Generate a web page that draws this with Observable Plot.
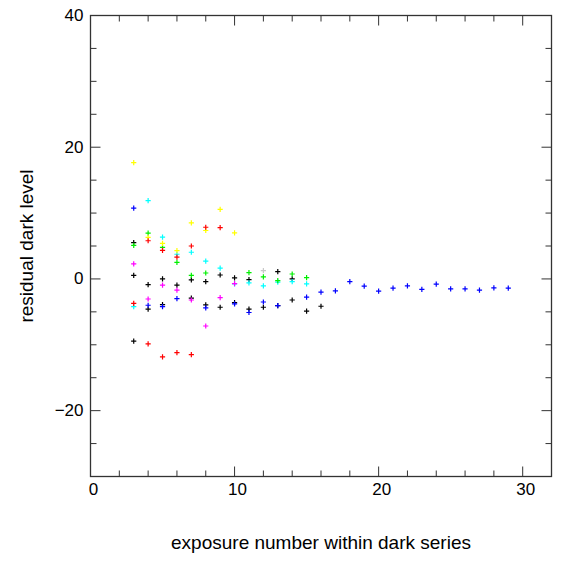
<!DOCTYPE html>
<html><head><meta charset="utf-8">
<script src="https://cdn.jsdelivr.net/npm/d3@7"></script>
<script src="https://cdn.jsdelivr.net/npm/@observablehq/plot@0.6"></script>
<style>body{margin:0;background:#fff}</style>
</head><body><div id="chart"></div>
<script>
// Tick values
const xTicksMajor = [0, 10, 20, 30];
const xTicksMinor = [2, 4, 6, 8, 12, 14, 16, 18, 22, 24, 26, 28];
const yTicksMajor = [-20, 0, 20, 40];
const yTicksMinor = [-25, -15, -10, -5, 5, 10, 15, 25, 30, 35];

// Series by colour (exposure number, residual dark level)
const blackX  = [3, 3, 3, 4, 4, 5, 5, 6, 7, 7, 8, 8, 9, 9, 10, 10, 11, 11, 12, 13, 13, 14, 14, 15, 16];
const blackY  = [5.5, 0.55, -9.45, -0.85, -4.6, 0.0, -3.9, -0.95, -0.15, -2.9, -0.4, -3.95, 0.6, -4.3, 0.15, -3.6, -0.1, -4.6, -4.3, 1.1, -4.05, 0.0, -3.2, -4.9, -4.15];
const redX    = [3, 4, 5, 6, 7, 8, 9, 4, 5, 6, 7];
const redY    = [-3.7, 5.8, 4.35, 3.3, 5.0, 7.85, 7.8, -9.85, -11.85, -11.2, -11.5];
const greenX  = [3, 4, 5, 6, 7, 8, 11, 12, 13, 14, 15];
const greenY  = [5.1, 6.95, 4.8, 2.5, 0.55, 0.9, 0.95, 0.3, -0.25, 0.75, 0.2];
const blueX   = [3, 4, 5, 6, 8, 10, 11, 12, 13, 15, 16, 17, 18, 19, 20, 21, 22, 23, 24, 25, 26, 27, 28, 29];
const blueY   = [10.75, -4.0, -4.2, -3.0, -4.4, -3.8, -5.1, -3.5, -4.05, -2.75, -2.0, -1.8, -0.4, -1.1, -1.85, -1.4, -1.05, -1.6, -0.8, -1.5, -1.5, -1.7, -1.35, -1.4];
const cyanX   = [3, 4, 5, 6, 7, 8, 9, 10, 11, 12, 13, 14, 15];
const cyanY   = [-4.2, 11.9, 6.35, 3.75, 4.05, 2.7, 1.65, -0.75, -0.6, -1.05, -0.5, -0.4, -0.75];
const magentaX = [3, 4, 5, 6, 7, 8, 9, 10];
const magentaY = [2.3, -3.05, -0.95, -1.7, -3.2, -7.15, -2.85, -0.7];
const yellowX = [3, 4, 5, 6, 7, 8, 9, 10];
const yellowY = [17.65, 6.3, 5.4, 4.3, 8.5, 7.35, 10.55, 7.0];
const grayX   = [12];
const grayY   = [1.25];

const series = [
  ["#000000", blackX, blackY],
  ["#c8c8c8", grayX, grayY],
  ["#00ffff", cyanX, cyanY],
  ["#ff00ff", magentaX, magentaY],
  ["#00f000", greenX, greenY],
  ["#ffff00", yellowX, yellowY],
  ["#ff0000", redX, redY],
  ["#0000ff", blueX, blueY]
];
const points = series.flatMap(([c, xs, ys]) => xs.map((x, i) => ({x, y: ys[i], c})));

const plusSym = {draw(ctx) { const h = 2.6; ctx.moveTo(-h, 0); ctx.lineTo(h, 0); ctx.moveTo(0, -h); ctx.lineTo(0, h); }};
const tickSym = (dx, dy) => ({draw(ctx) { ctx.moveTo(0, 0); ctx.lineTo(dx, dy); }});
const axisColor = "#333";
const tk = (data, xf, yf, dx, dy) => Plot.dot(data, {x: xf, y: yf, r: 3, symbol: tickSym(dx, dy), fill: "none", stroke: axisColor, strokeWidth: 1});
const fmt = d => d < 0 ? "\u2212" + (-d) : String(d);

const chart = Plot.plot({
  width: 570, height: 567,
  marginLeft: 90, marginRight: 19, marginTop: 15, marginBottom: 91,
  x: {domain: [0, 32]},
  y: {domain: [-30, 40]},
  style: {fontFamily: "Liberation Sans, Arial, Helvetica, sans-serif", background: "#fff", color: "#000"},
  marks: [
    Plot.frame({stroke: axisColor, strokeWidth: 1.3}),
    // ticks (inward)
    tk(xTicksMajor, d => d, () => -30, 0, -10),
    tk(xTicksMinor, d => d, () => -30, 0, -6),
    tk(xTicksMajor, d => d, () => 40, 0, 10),
    tk(xTicksMinor, d => d, () => 40, 0, 6),
    tk(yTicksMajor, () => 0, d => d, 10, 0),
    tk(yTicksMinor, () => 0, d => d, 6, 0),
    tk(yTicksMajor, () => 32, d => d, -10, 0),
    tk(yTicksMinor, () => 32, d => d, -6, 0),
    Plot.axisX({ticks: xTicksMajor, tickSize: 0, tickPadding: 6, fontSize: 17, dx: 3, label: null, tickFormat: fmt}),
    Plot.axisY({ticks: yTicksMajor, tickSize: 0, tickPadding: 7, fontSize: 17, label: null, tickFormat: fmt}),
    Plot.dot(points, {x: "x", y: "y", r: 3, symbol: plusSym, fill: "none", stroke: "c", strokeWidth: 1.2}),
    Plot.text(["exposure number within dark series"], {frameAnchor: "bottom", dy: 72, lineAnchor: "bottom", text: d => d, fontSize: 19, fill: "#000"}),
    Plot.text(["residual dark level"], {frameAnchor: "left", dx: -58, rotate: -90, textAnchor: "middle", lineAnchor: "bottom", text: d => d, fontSize: 19, fill: "#000"})
  ]
});
document.getElementById("chart").appendChild(chart);
</script>
</body></html>
